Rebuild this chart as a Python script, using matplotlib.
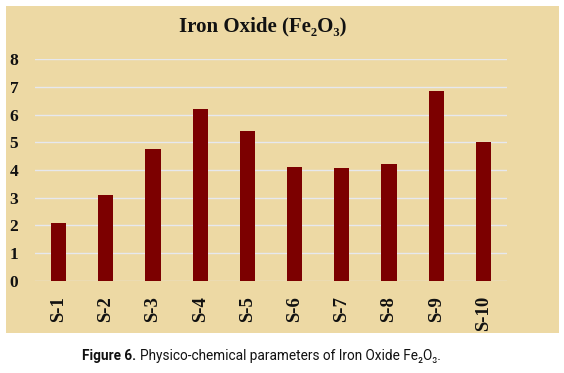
import matplotlib
matplotlib.use("Agg")
import matplotlib.pyplot as plt
from matplotlib.patches import Rectangle

samples = ["S-1", "S-2", "S-3", "S-4", "S-5", "S-6", "S-7", "S-8", "S-9", "S-10"]
fe2o3 = [2.1, 3.1, 4.75, 6.2, 5.4, 4.12, 4.07, 4.2, 6.85, 5.0]
yticks = [0, 1, 2, 3, 4, 5, 6, 7, 8]

W, H = 564, 373
serif = ["Liberation Serif", "DejaVu Serif"]
sans = ["Roboto", "Liberation Sans", "DejaVu Sans"]

fig = plt.figure(figsize=(W / 100, H / 100), dpi=100)
fig.patch.set_facecolor("white")

# papyrus-like panel behind the chart
panel = Rectangle((6 / W, 1 - 333 / H), (559 - 6) / W, (333 - 6) / H,
                  transform=fig.transFigure, facecolor="#EDD9A4",
                  edgecolor="none", zorder=-5)
fig.patches.append(panel)

ax = fig.add_axes([35 / W, 1 - 280.7 / H, (507 - 35) / W, (280.7 - 59.3) / H])
ax.set_zorder(2)
ax.set_facecolor("none")
x = range(len(samples))
ax.bar(x, fe2o3, width=0.32, color="#7C0000", zorder=3)
ax.set_xlim(-0.5, len(samples) - 0.5)
ax.set_ylim(0, 8)
ax.set_yticks(yticks)
ax.yaxis.grid(True, color="#E6E8EE", lw=1, zorder=1)
ax.set_axisbelow(True)
for s in ax.spines.values():
    s.set_visible(False)
ax.tick_params(length=0)
ax.set_yticklabels([str(t) for t in yticks], family=serif, fontweight="bold",
                   fontsize=12.5, color="#111111")
ax.tick_params(axis="y", pad=12)
ax.set_xticks(list(x))
ax.set_xticklabels(samples, rotation=90, family=serif, fontweight="bold",
                   fontsize=13.5, color="#111111")
ax.tick_params(axis="x", pad=11)

fig.text(263 / W, 1 - 26 / H, "Iron Oxide (Fe\u2082O\u2083)", ha="center",
         va="center", family=serif, fontweight="bold", fontsize=15,
         color="#111111")

# caption: bold label followed by regular text, centred as a whole
renderer = fig.canvas.get_renderer()
cap_y = 1 - 356 / H
cap_size = 9.8
t1 = fig.text(0, cap_y, "Figure 6.", ha="left", va="center",
              family=sans, fontweight="bold", fontsize=cap_size, color="#111111")
t2 = fig.text(0, cap_y,
              "Physico-chemical parameters of Iron Oxide Fe\u2082O\u2083.",
              ha="left", va="center", family=sans, fontsize=cap_size,
              color="#111111")
w1 = t1.get_window_extent(renderer).width
w2 = t2.get_window_extent(renderer).width
gap = 3
start = 261.5 - (w1 + gap + w2) / 2
t1.set_x(start / W)
t2.set_x((start + w1 + gap) / W)

fig.savefig("out.png", dpi=100)
